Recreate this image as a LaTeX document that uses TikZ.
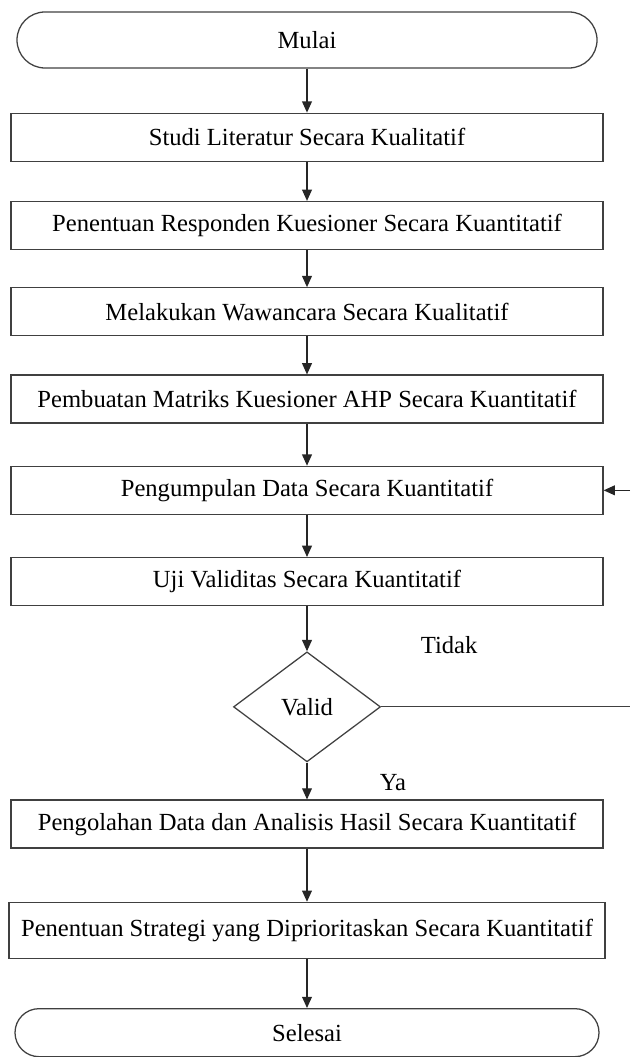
\documentclass[tikz,border=0pt]{standalone}
\usepackage{fontspec}
\setmainfont{Liberation Serif}
\usetikzlibrary{arrows.meta, positioning, shapes.geometric}

\begin{document}
\begin{tikzpicture}[
  node distance=1cm,
  every node/.style={font=\fontsize{17.5}{20}\selectfont},
  term/.style={draw=black!75, line width=0.9pt, rounded corners=0.7cm, minimum width=14.5cm,
               minimum height=1.4cm, text centered},
  box/.style={draw=black!75, line width=0.9pt, minimum width=14.8cm, minimum height=1.2cm,
              inner sep=2pt, text centered},
  decision/.style={draw=black!75, line width=0.9pt, diamond, aspect=1.34, inner sep=0pt,
                   minimum width=3.675cm, minimum height=2.75cm},
  arrow/.style={-{Triangle[length=8pt,width=7pt]}, line width=0.9pt, black!85},
  line/.style={line width=0.9pt, black!75}
]
\useasboundingbox (0,0) rectangle (15.75,-26.425);

\node[term] (M) at (7.675,-1.0) {Mulai};
\node[box, below=1.1cm of M] (B1) {Studi Literatur Secara Kualitatif};
\node[box, below=0.975cm of B1] (B2) {Penentuan Responden Kuesioner Secara Kuantitatif};
\node[box, below=0.925cm of B2] (B3) {Melakukan Wawancara Secara Kualitatif};
\node[box, below=0.95cm of B3] (B4) {Pembuatan Matriks Kuesioner AHP Secara Kuantitatif};
\node[box, below=1.05cm of B4] (B5) {Pengumpulan Data Secara Kuantitatif};
\node[box, below=1.05cm of B5] (B6) {Uji Validitas Secara Kuantitatif};
\node[decision, below=1.125cm of B6] (D) {Valid};
\node[box, below=0.925cm of D] (B7) {Pengolahan Data dan Analisis Hasil Secara Kuantitatif};
\node[box, minimum width=14.9cm, minimum height=1.4cm, below=1.325cm of B7] (B8) {Penentuan Strategi yang Diprioritaskan Secara Kuantitatif};
\node[term, minimum width=14.6cm, minimum height=1.2cm, rounded corners=0.6cm, below=1.225cm of B8] (S) {Selesai};

\node (tidak) at ([xshift=1.7cm, yshift=1.55cm]D.east) {Tidak};
\node (ya) at ([xshift=2.15cm, yshift=-0.5cm]D.south) {Ya};

% loop back, cut off at the right edge
\coordinate (kanan1) at (D.east -| 15.75,0);
\coordinate (kanan2) at (B5.east -| 15.75,0);

\draw[arrow] (M) -- (B1);
\draw[arrow] (B1) -- (B2);
\draw[arrow] (B2) -- (B3);
\draw[arrow] (B3) -- (B4);
\draw[arrow] (B4) -- (B5);
\draw[arrow] (B5) -- (B6);
\draw[arrow] (B6) -- (D);
\draw[arrow] (D) -- (B7);
\draw[arrow] (B7) -- (B8);
\draw[arrow] (B8) -- (S);
\draw[line] (D.east) -- (kanan1);
\draw[arrow] (kanan2) -- (B5.east);
\end{tikzpicture}
\end{document}
